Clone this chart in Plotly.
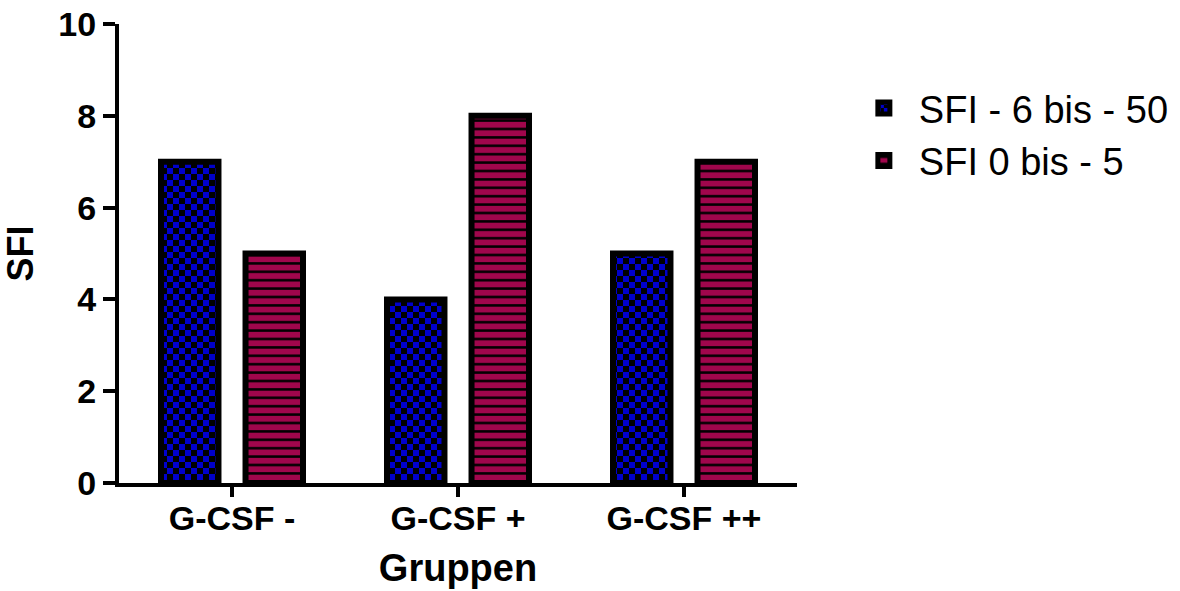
import plotly.graph_objects as go

categories = ["G-CSF -", "G-CSF +", "G-CSF ++"]
series_names = ["SFI - 6 bis - 50", "SFI 0 bis - 5"]
sfi_high = [7, 4, 5]
sfi_low = [5, 8, 7]
y_ticks = [0, 2, 4, 6, 8, 10]

BLUE = "#0000CC"
RED = "#A0064C"
FONT = "Liberation Sans, Arial, sans-serif"

checker = "M0,0H6V6H0Z M6,6H12V12H6Z"

fig = go.Figure()
fig.add_trace(go.Bar(
    x=categories, y=sfi_high, name=series_names[0],
    marker=dict(
        color=BLUE,
        line=dict(color="black", width=6),
        pattern=dict(path=checker, size=12, fgcolor=BLUE, bgcolor="black",
                     fillmode="replace", fgopacity=1),
    ),
))
fig.add_trace(go.Bar(
    x=categories, y=sfi_low, name=series_names[1],
    marker=dict(
        color=RED,
        line=dict(color="black", width=6),
        pattern=dict(shape="-", size=8.4, solidity=0.3, fgcolor="black",
                     bgcolor=RED, fillmode="replace", fgopacity=1),
    ),
))

fig.update_layout(
    width=1180, height=591,
    margin=dict(l=119, r=383, t=24, b=108, autoexpand=False),
    paper_bgcolor="white", plot_bgcolor="white",
    barmode="group", bargap=0.252, bargroupgap=0.32,
    font=dict(family=FONT, color="black"),
    showlegend=True,
    legend=dict(x=1.0765, y=0.885, xanchor="left", yanchor="top",
                font=dict(size=38, family=FONT), tracegroupgap=0,
                itemwidth=60, bgcolor="rgba(0,0,0,0)"),
    xaxis=dict(
        range=[-0.5, 2.5], showline=True, linecolor="black", linewidth=4,
        ticks="outside", ticklen=10, tickwidth=4, tickcolor="black",
        tickfont=dict(size=34, family=FONT, weight="bold"),
        ticklabelstandoff=-8, ticklabeloverflow="allow",
        title=dict(text="<b>Gruppen</b>", font=dict(size=38, family=FONT), standoff=20),
        showgrid=False, zeroline=False, automargin=False,
    ),
    yaxis=dict(
        range=[0, 10], tickvals=y_ticks, showline=True, linecolor="black", linewidth=4,
        ticks="outside", ticklen=12, tickwidth=4, tickcolor="black",
        tickfont=dict(size=34, family=FONT, weight="bold"),
        ticklabeloverflow="allow",
        title=dict(text="<b>SFI</b>", font=dict(size=36, family=FONT), standoff=20),
        showgrid=False, zeroline=False, automargin=False,
    ),
)

fig.write_html("out.html", config={"displayModeBar": False},
               post_script="document.body.style.margin='0';")
